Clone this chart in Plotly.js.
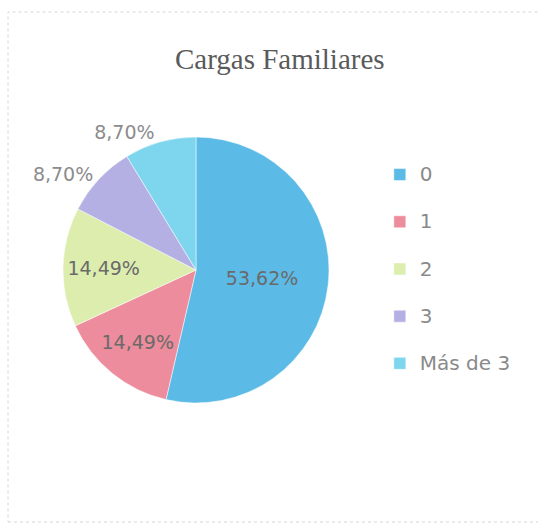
<!DOCTYPE html>
<html>
<head>
<meta charset="utf-8">
<script src="https://cdn.plot.ly/plotly-3.0.1.min.js"></script>
<style>
  html, body { margin: 0; padding: 0; background: #ffffff; }
  #chart { width: 538px; height: 523px; }
</style>
</head>
<body>
<div id="chart"></div>
<script>
const categories = ['0', '1', '2', '3', 'Más de 3'];
const percentages = [53.62, 14.49, 14.49, 8.70, 8.70];
const sliceColors = ['#5bbbe6', '#ec8c9c', '#dcedae', '#b4b0e4', '#7dd6ee'];
const labelPositions = ['inside', 'inside', 'inside', 'outside', 'outside'];
const chartTitle = 'Cargas Familiares';

const legendLabels = categories.map(c => '<span style="font-size:20px">' + c + '</span><br> ');

const trace = {
  type: 'pie',
  labels: legendLabels,
  values: percentages,
  sort: false,
  direction: 'clockwise',
  rotation: 0,
  marker: { colors: sliceColors, line: { color: '#ffffff', width: 0.5 } },
  texttemplate: '%{value:.2f}%',
  textposition: labelPositions,
  insidetextorientation: 'horizontal',
  insidetextfont: { family: 'DejaVu Sans', size: 19, color: '#6a6a6a' },
  outsidetextfont: { family: 'DejaVu Sans', size: 19, color: '#8c8c8c' },
  domain: { x: [0.1171, 0.6115], y: [0.2294, 0.738] },
  hoverinfo: 'skip'
};

const layout = {
  width: 538,
  height: 523,
  margin: { l: 0, r: 0, t: 0, b: 0 },
  separators: ',.',
  paper_bgcolor: '#ffffff',
  title: {
    text: chartTitle,
    font: { family: 'Liberation Serif', size: 29, color: '#5a5a5a' },
    x: 0.52, xref: 'paper', xanchor: 'center',
    y: 1 - 59 / 523, yref: 'container', yanchor: 'middle'
  },
  showlegend: true,
  legend: {
    x: 0.706, xanchor: 'left',
    y: 1 - 157 / 523, yanchor: 'top',
    font: { family: 'DejaVu Sans', size: 17, color: '#8a8a8a' },
    valign: 'top',
    bgcolor: 'rgba(0,0,0,0)'
  },
  shapes: [{
    type: 'rect', xref: 'paper', yref: 'paper',
    x0: 8 / 538, x1: 1.02, y0: 1 / 523, y1: 1 - 12 / 523,
    line: { color: '#d6d6d6', width: 1, dash: 'dot' },
    layer: 'below'
  }]
};

Plotly.newPlot('chart', [trace], layout, { displayModeBar: false, staticPlot: true });
</script>
</body>
</html>
